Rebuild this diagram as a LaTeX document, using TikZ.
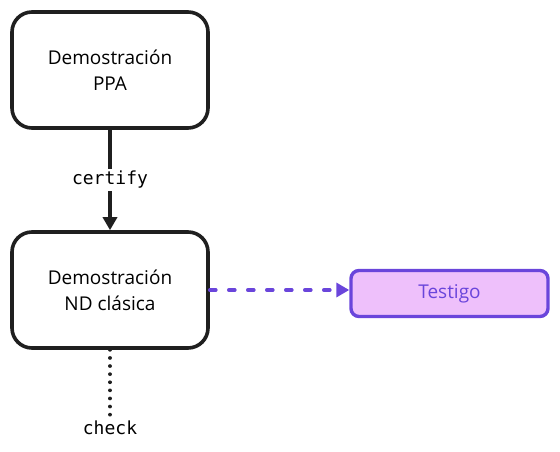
\documentclass[tikz,border=0pt]{standalone}
\usepackage{fontspec}
\setmainfont{Open Sans}
\setmonofont{DejaVu Sans Mono}
\usetikzlibrary{arrows.meta}
\usetikzlibrary{positioning}

\definecolor{lila}{HTML}{6A45DB}
\definecolor{lilafondo}{HTML}{EEC0FB}

\begin{document}
\begin{tikzpicture}[x=1pt,y=-1pt,>={Triangle[length=13pt,width=14pt]},
    caja/.style={draw=black!88,line width=3.6pt,rounded corners=20pt,
      minimum width=196pt,minimum height=116pt,align=center,
      font=\fontsize{19}{26}\selectfont},
    testigo/.style={draw=lila,fill=lilafondo,text=lila,line width=3.4pt,
      rounded corners=8pt,minimum width=197pt,minimum height=46pt,
      font=\fontsize{19}{22}\selectfont},
    etiqueta/.style={fill=white,inner sep=2pt,font=\ttfamily\fontsize{18}{20}\selectfont}]
  \useasboundingbox (0,0) rectangle (560,452);

  % Cajas
  \node[caja] (ppa) at (110,70) {Demostración\\PPA};
  \node[caja] (nd) at (110,290) {Demostración\\ND clásica};
  \node[testigo] (test) at (449.5,293.5) {Testigo};
  \node[etiqueta,fill=none] (check) at (110,428) {check};

  % Flechas
  \draw[->,line width=3.6pt,draw=black!88] (ppa) -- node[etiqueta] {certify} (nd);
  \draw[->,line width=3.6pt,draw=lila,line cap=round,dash pattern=on 6pt off 13pt]
    (nd.east) -- (nd.east -| test.west);
  \draw[line width=3.6pt,draw=black!88,line cap=round,dash pattern=on 0.1pt off 8pt]
    (nd.south) -- (check.north);
\end{tikzpicture}
\end{document}
